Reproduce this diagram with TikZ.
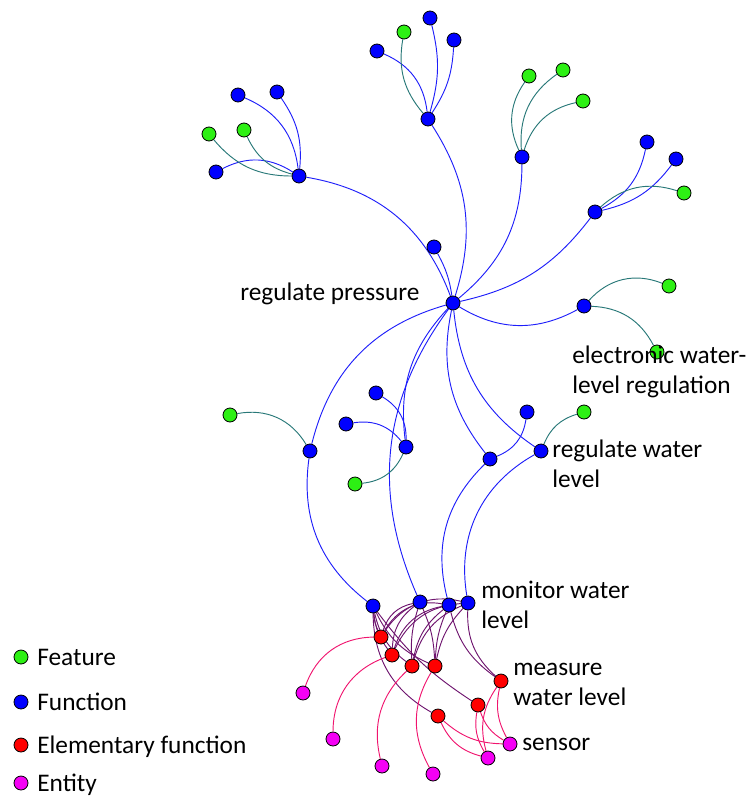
\documentclass[tikz,border=0pt]{standalone}
\usepackage{fontspec}
\setmainfont{Carlito}
\usetikzlibrary{positioning}
\pgfdeclarelayer{edges}
\pgfsetlayers{edges,main}

\definecolor{featgreen}{RGB}{45,240,20}
\definecolor{funcblue}{RGB}{0,0,255}
\definecolor{elemred}{RGB}{255,0,0}
\definecolor{entmag}{RGB}{245,0,245}
\definecolor{bluelink}{RGB}{30,30,250}
\definecolor{teallink}{RGB}{40,120,120}
\definecolor{purplelink}{RGB}{110,20,110}
\definecolor{pinklink}{RGB}{240,20,110}

\tikzset{
  dot/.style={circle,draw=black,line width=0.6pt,minimum size=10.5pt,inner sep=0pt},
  ft/.style={dot,fill=featgreen},
  fn/.style={dot,fill=funcblue},
  ef/.style={dot,fill=elemred},
  en/.style={dot,fill=entmag},
  fe/.style={draw=bluelink,line width=0.7pt},
  te/.style={draw=teallink,line width=0.7pt},
  pe/.style={draw=purplelink,line width=0.7pt},
  ne/.style={draw=pinklink,line width=0.7pt},
  lbl/.style={font=\fontsize{19}{22.5}\selectfont,align=left,inner sep=0pt},
  key/.style={lbl,text height=14pt,text depth=2pt}
}

\begin{document}
\begin{tikzpicture}[x=0.75pt,y=0.75pt,yscale=-1,xscale=1]
\useasboundingbox (0,0) rectangle (749,796);

%Function nodes
\node[fn] (press) at (453,303) {};
\node[fn] (tl) at (299,176) {};
\node[fn] (tla) at (238,95) {};
\node[fn] (tlb) at (277,92) {};
\node[fn] (tle) at (216,172) {};
\node[fn] (tc) at (428,119) {};
\node[fn] (tcb) at (430,18) {};
\node[fn] (tcc) at (454,40) {};
\node[fn] (tcd) at (377,51) {};
\node[fn] (tr) at (522,157) {};
\node[fn] (rt) at (595,212) {};
\node[fn] (rta) at (647,142) {};
\node[fn] (rtb) at (676,159) {};
\node[fn] (up) at (434,247) {};
\node[fn] (elec) at (584,306) {};
\node[fn] (lf) at (310,451) {};
\node[fn] (md) at (406,447) {};
\node[fn] (mda) at (376,393) {};
\node[fn] (mdb) at (346,424) {};
\node[fn] (wl) at (490,459) {};
\node[fn] (wla) at (527,412) {};
\node[fn] (rw) at (541,451) {};
\node[fn] (ba) at (373,606) {};
\node[fn] (bb) at (420,602) {};
\node[fn] (bc) at (449,605) {};
\node[fn] (mon) at (468,603) {};

%Feature nodes
\node[ft] (tlc) at (209,134) {};
\node[ft] (tld) at (244,130) {};
\node[ft] (tca) at (404,32) {};
\node[ft] (tra) at (529,76) {};
\node[ft] (trb) at (563,70) {};
\node[ft] (trc) at (583,101) {};
\node[ft] (rtc) at (684,193) {};
\node[ft] (eleca) at (669,286) {};
\node[ft] (elecb) at (657,352) {};
\node[ft] (lfa) at (230,415) {};
\node[ft] (mdc) at (355,484) {};
\node[ft] (rwa) at (584,412) {};

%Elementary function nodes
\node[ef] (ea) at (381,637) {};
\node[ef] (eb) at (392,655) {};
\node[ef] (ec) at (412,666) {};
\node[ef] (ed) at (435,666) {};
\node[ef] (meas) at (501,681) {};
\node[ef] (ee) at (478,705) {};
\node[ef] (eg) at (438,716) {};

%Entity nodes
\node[en] (na) at (303,693) {};
\node[en] (nb) at (333,739) {};
\node[en] (nc) at (382,766) {};
\node[en] (nd) at (433,774) {};
\node[en] (ne) at (488,758) {};
\node[en] (sens) at (510,744) {};

\begin{pgfonlayer}{edges}
%Function links
\draw[fe] (tla) to[bend right=30] (tl);
\draw[fe] (tlb) to[bend right=20] (tl);
\draw[fe] (tle) to[bend right=30] (tl);
\draw[fe] (tl) to[bend right=30] (press);
\draw[fe] (tcb) to[bend right=15] (tc);
\draw[fe] (tcc) to[bend right=15] (tc);
\draw[fe] (tcd) to[bend right=30] (tc);
\draw[fe] (tc) to[bend right=25] (press);
\draw[fe] (tr) to[bend right=25] (press);
\draw[fe] (rta) to[bend right=25] (rt);
\draw[fe] (rtb) to[bend right=20] (rt);
\draw[fe] (rt) to[bend right=20] (press);
\draw[fe] (up) to[bend right=10] (press);
\draw[fe] (press) to[bend left=30] (elec);
\draw[fe] (press) to[bend left=30] (lf);
\draw[fe] (lf) to[bend left=30] (ba);
\draw[fe] (press) to[bend left=25] (md);
\draw[fe] (press) to[bend left=30] (bb);
\draw[fe] (mda) to[bend right=30] (md);
\draw[fe] (mdb) to[bend right=30] (md);
\draw[fe] (press) to[bend left=25] (wl);
\draw[fe] (press) to[bend left=25] (rw);
\draw[fe] (wla) to[bend right=30] (wl);
\draw[fe] (wl) to[bend left=30] (bc);
\draw[fe] (rw) to[bend left=35] (mon);

%Feature links
\draw[te] (tlc) to[bend left=25] (tl);
\draw[te] (tld) to[bend left=25] (tl);
\draw[te] (tca) to[bend left=25] (tc);
\draw[te] (tra) to[bend left=30] (tr);
\draw[te] (trb) to[bend left=30] (tr);
\draw[te] (trc) to[bend left=30] (tr);
\draw[te] (rtc) to[bend left=30] (rt);
\draw[te] (elec) to[bend right=35] (eleca);
\draw[te] (elec) to[bend right=30] (elecb);
\draw[te] (lf) to[bend left=35] (lfa);
\draw[te] (md) to[bend right=30] (mdc);
\draw[te] (rw) to[bend right=25] (rwa);

%Elementary function links
\draw[pe] (ba) to[bend left=10] (ea);
\draw[pe] (ba) to[bend left=15] (eb);
\draw[pe] (ba) to[bend left=20] (ec);
\draw[pe] (ba) to[bend left=20] (ed);
\draw[pe] (ba) to[bend left=10] (ee);
\draw[pe] (ba) to[bend left=30] (eg);
\draw[pe] (bb) to[bend left=30] (ea);
\draw[pe] (bb) to[bend left=25] (eb);
\draw[pe] (bb) to[bend left=10] (ec);
\draw[pe] (bb) to[bend right=10] (ed);
\draw[pe] (bc) to[bend left=35] (ea);
\draw[pe] (bc) to[bend left=30] (eb);
\draw[pe] (bc) to[bend left=20] (ec);
\draw[pe] (bc) to[bend left=10] (ed);
\draw[pe] (bc) to[bend left=20] (meas);
\draw[pe] (mon) to[bend left=35] (ea);
\draw[pe] (mon) to[bend left=30] (eb);
\draw[pe] (mon) to[bend left=25] (ec);
\draw[pe] (mon) to[bend left=15] (ed);
\draw[pe] (mon) to[bend left=25] (meas);

%Entity links
\draw[ne] (ea) to[bend left=35] (na);
\draw[ne] (eb) to[bend left=35] (nb);
\draw[ne] (ec) to[bend left=30] (nc);
\draw[ne] (ed) to[bend left=30] (nd);
\draw[ne] (meas) to[bend left=25] (ne);
\draw[ne] (meas) to[bend left=20] (sens);
\draw[ne] (ee) to[bend left=20] (ne);
\draw[ne] (ee) to[bend left=20] (sens);
\draw[ne] (eg) to[bend left=25] (ne);
\draw[ne] (eg) to[bend left=20] (sens);
\end{pgfonlayer}

% Text Node
\node[lbl,anchor=base west] (lpress) at (240,300) {regulate pressure};
\node[lbl,anchor=west] (lelec) at (572,372) {electronic water-\\level regulation};
\node[lbl,anchor=west] (lrw) at (552,464) {regulate water\\level};
\node[lbl,anchor=west] (lmon) at (481,605) {monitor water\\level};
\node[lbl,anchor=west] (lmeas) at (513,684) {measure\\water level};
\node[lbl,anchor=base west] (lsens) at (522,750) {sensor};

%Legend
\node[ft] (kft) at (21,657) {};
\node[fn] (kfn) at (21,702) {};
\node[ef] (kef) at (21,745) {};
\node[en] (ken) at (21,783) {};
\node[key,right=6.5pt of kft] (tft) {Feature};
\node[key,right=6.5pt of kfn] (tfn) {Function};
\node[key,right=6.5pt of kef] (tef) {Elementary function};
\node[key,right=6.5pt of ken] (ten) {Entity};

\end{tikzpicture}
\end{document}
